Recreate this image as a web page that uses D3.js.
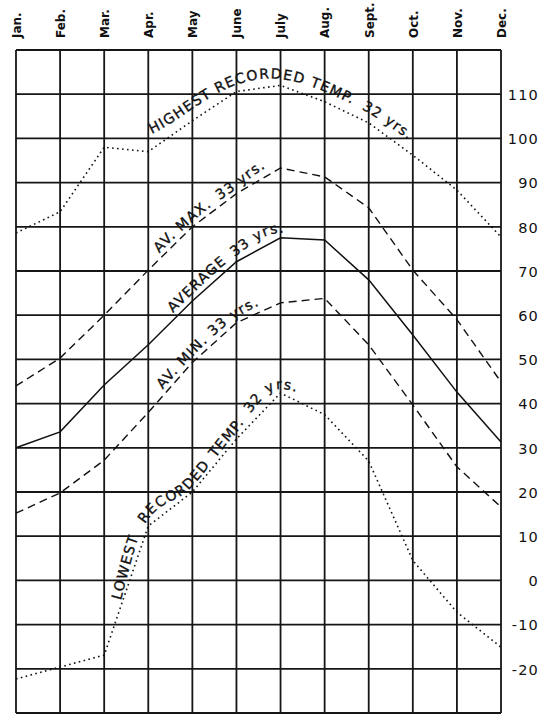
<!DOCTYPE html>
<html>
<head>
<meta charset="utf-8">
<script src="https://cdn.jsdelivr.net/npm/d3@7"></script>
<style>
  body { margin: 0; background: #fff; }
  svg { display: block; }
  .lbl { font-family: "DejaVu Sans", sans-serif; font-size: 14px; letter-spacing: 1.3px;
         fill: #111; stroke: #111; stroke-width: 0.35px; }
</style>
</head>
<body>
<div id="chart"></div>
<script>
// ── Data ──────────────────────────────────────────────────────────────────────
const MONTHS     = ["Jan.", "Feb.", "Mar.", "Apr.", "May", "June", "July", "Aug.", "Sept.", "Oct.", "Nov.", "Dec."];
const TEMP_TICKS = [-20, -10, 0, 10, 20, 30, 40, 50, 60, 70, 80, 90, 100, 110];

const HIGHEST = [78.6, 83.4, 98.0, 97.0, 104.0, 110.6, 112.0, 108.3, 103.5, 96.2, 88.3, 77.7];
const AV_MAX  = [44.0, 50.3, 60.0, 70.2, 80.0, 87.5, 93.3, 91.3, 84.3, 70.2, 59.0, 44.9];
const AVERAGE = [30.0, 33.6, 44.2, 53.3, 63.2, 72.1, 77.5, 77.0, 68.0, 55.5, 42.6, 31.3];
const AV_MIN  = [15.2, 19.8, 27.2, 38.0, 49.3, 58.3, 62.8, 63.8, 53.3, 39.7, 25.7, 16.6];
const LOWEST  = [-22.3, -19.6, -16.9, 12.3, 20.0, 32.0, 42.4, 37.5, 27.0, 4.5, -7.2, -15.1];

// ── Dimensions ────────────────────────────────────────────────────────────────
const W = 550, H = 724;
const plot = { left: 16, right: 501, top: 50, bottom: 713 };

const svg = d3.select("#chart").append("svg")
  .attr("width", W).attr("height", H);

// ── Scales ────────────────────────────────────────────────────────────────────
const x = d3.scalePoint().domain(MONTHS).range([plot.left, plot.right]);
const y = d3.scaleLinear().domain([-30, 120]).range([plot.bottom, plot.top]);

// ── Grid ──────────────────────────────────────────────────────────────────────
const grid = svg.append("g").attr("stroke", "#161616").attr("stroke-width", 1.8);

grid.selectAll(".h").data(d3.range(-30, 121, 10)).join("line")
  .attr("x1", plot.left).attr("x2", plot.right)
  .attr("y1", d => y(d)).attr("y2", d => y(d));

grid.selectAll(".v").data(MONTHS).join("line")
  .attr("x1", d => x(d)).attr("x2", d => x(d))
  .attr("y1", plot.top).attr("y2", plot.bottom);

// ── Axes (labels only) ────────────────────────────────────────────────────────
const monthAxis = svg.append("g")
  .attr("transform", "translate(0,38)")
  .call(d3.axisTop(x).tickSize(0));
monthAxis.select(".domain").remove();
monthAxis.selectAll("text")
  .attr("x", 0).attr("y", 0).attr("dy", "0.36em")
  .attr("transform", "rotate(-90)")
  .style("text-anchor", "start")
  .style("font-family", "'DejaVu Sans', sans-serif")
  .style("font-weight", "bold")
  .style("font-size", "12px")
  .attr("fill", "#111");

const tempAxis = svg.append("g")
  .attr("transform", `translate(${plot.right},0)`)
  .call(d3.axisRight(y).tickValues(TEMP_TICKS).tickSize(0).tickFormat(d => String(d)));
tempAxis.select(".domain").remove();
tempAxis.selectAll("text")
  .attr("x", 38).attr("dy", "0.36em")
  .style("text-anchor", "end")
  .style("font-family", "'DejaVu Sans', sans-serif")
  .style("font-size", "14.5px")
  .style("letter-spacing", "1.2px")
  .attr("fill", "#111");

// ── Series lines ──────────────────────────────────────────────────────────────
const SERIES = [
  { values: HIGHEST, dash: "1.6,3.4", width: 1.6 },
  { values: AV_MAX,  dash: "8,5",     width: 1.4 },
  { values: AVERAGE, dash: null,      width: 1.5 },
  { values: AV_MIN,  dash: "8,5",     width: 1.4 },
  { values: LOWEST,  dash: "1.6,3.4", width: 1.6 },
];

const line = d3.line().x((d, i) => x(MONTHS[i])).y(d => y(d));

svg.append("g").selectAll("path").data(SERIES).join("path")
  .attr("d", s => line(s.values))
  .attr("fill", "none")
  .attr("stroke", "#111")
  .attr("stroke-width", s => s.width)
  .attr("stroke-dasharray", s => s.dash);

// ── Labels along the curves ───────────────────────────────────────────────────
const step = x.step();

const LABELS = [
  { values: HIGHEST, curve: d3.curveBasis,     off: 10, at: 3.08, pieces: [["HIGHEST RECORDED TEMP.", 0], ["32 yrs.", 10]] },
  { values: AV_MAX,  curve: d3.curveMonotoneX, off: 4,  at: 3.25, pieces: [["AV. MAX.", 0], ["33 yrs.", 9]] },
  { values: AVERAGE, curve: d3.curveMonotoneX, off: 5,  at: 3.56, pieces: [["AVERAGE", 0], ["33 yrs.", 9]] },
  { values: AV_MIN,  curve: d3.curveMonotoneX, off: 4,  at: 3.33, pieces: [["AV. MIN.", 0], ["33 yrs.", 6]] },
  { values: LOWEST,  curve: d3.curveMonotoneX, off: 4,  at: 2.38, pieces: [["LOWEST", 0], ["RECORDED", 14], ["TEMP.", 8], ["32 yrs.", 10]] },
];

// point on a path whose x is tx
function lengthAtX(node, tx) {
  let lo = 0, hi = node.getTotalLength();
  for (let k = 0; k < 40; k++) {
    const mid = (lo + hi) / 2;
    if (node.getPointAtLength(mid).x < tx) lo = mid; else hi = mid;
  }
  return lo;
}

// parallel copy of a path, shifted `off` px to its upper side
function offsetPath(node, off) {
  const L = node.getTotalLength(), pts = [];
  for (let s = 0; s <= L; s += 2) {
    const a = node.getPointAtLength(Math.max(0, s - 1.5));
    const b = node.getPointAtLength(Math.min(L, s + 1.5));
    const p = node.getPointAtLength(s);
    const dx = b.x - a.x, dy = b.y - a.y, n = Math.hypot(dx, dy) || 1;
    pts.push([p.x + dy / n * off, p.y - dx / n * off]);
  }
  return d3.line()(pts);
}

const defs = svg.append("defs");
LABELS.forEach((lab, i) => {
  const base = defs.append("path")
    .attr("d", d3.line().x((d, k) => x(MONTHS[k])).y(d => y(d)).curve(lab.curve)(lab.values));
  const p = defs.append("path")
    .attr("id", `guide-${i}`)
    .attr("d", offsetPath(base.node(), lab.off));
  const start = lengthAtX(p.node(), plot.left + lab.at * step);

  const tp = svg.append("text").attr("class", "lbl")
    .append("textPath")
    .attr("href", `#guide-${i}`)
    .attr("startOffset", start);

  lab.pieces.forEach(([txt, gap]) => {
    tp.append("tspan").attr("dx", gap).text(txt);
  });
});
</script>
</body>
</html>
